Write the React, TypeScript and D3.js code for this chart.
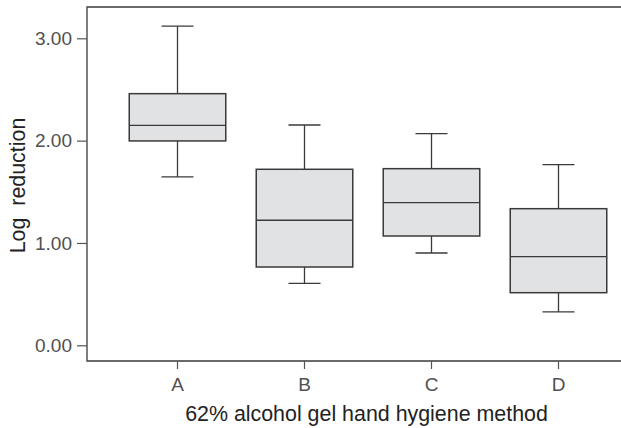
import React, { useRef, useEffect } from "react";
import * as d3 from "d3";

// five-number summaries
const methods = ["A", "B", "C", "D"];
const whiskerLow = [1.645, 0.606, 0.902, 0.326];
const quartile1 = [1.997, 0.765, 1.068, 0.514];
const medians = [2.15, 1.222, 1.394, 0.866];
const quartile3 = [2.459, 1.72, 1.726, 1.335];
const whiskerHigh = [3.118, 2.153, 2.068, 1.765];
const yTicks = [0, 1, 2, 3];

const width = 621;
const height = 428;

const App = () => {
  const svgRef = useRef<SVGSVGElement>(null);

  useEffect(() => {
    const svg = d3.select(svgRef.current);
    svg.selectAll("*").remove();

    const font = "'Liberation Sans', Arial, Helvetica, sans-serif";
    const left = 87, top = 7, bottom = 361;

    const x = d3.scaleBand()
      .domain(methods)
      .range([114, 622])
      .paddingInner(0.24)
      .paddingOuter(0.12);

    const y = d3.scaleLinear()
      .domain([0, 3])
      .range([345.3, 38.3]);

    const data = methods.map((m, i) => ({
      m,
      lo: whiskerLow[i],
      q1: quartile1[i],
      med: medians[i],
      q3: quartile3[i],
      hi: whiskerHigh[i],
    }));

    // frame (open on the right)
    svg.append("path")
      .attr("d", `M${width},${top}H${left}V${bottom}H${width}`)
      .attr("fill", "none")
      .attr("stroke", "#3a3a3a")
      .attr("stroke-width", 1.3);

    const yAxis = svg.append("g")
      .attr("transform", `translate(${left},0)`)
      .call(d3.axisLeft(y).tickValues(yTicks).tickFormat(d3.format(".2f")).tickSize(10).tickPadding(5));
    yAxis.select(".domain").remove();
    yAxis.selectAll("line").attr("stroke", "#555").attr("stroke-width", 1.2);
    yAxis.selectAll("text")
      .attr("font-family", font)
      .attr("font-size", 19)
      .attr("fill", "#505050");

    const xAxis = svg.append("g")
      .attr("transform", `translate(0,${bottom})`)
      .call(d3.axisBottom(x).tickSize(8).tickPadding(9));
    xAxis.select(".domain").remove();
    xAxis.selectAll("line").attr("stroke", "#555").attr("stroke-width", 1.2);
    xAxis.selectAll("text")
      .attr("font-family", font)
      .attr("font-size", 19)
      .attr("fill", "#505050");

    const bw = x.bandwidth();
    const cap = 32;
    const boxes = svg.append("g").selectAll("g")
      .data(data)
      .enter()
      .append("g")
      .attr("transform", d => `translate(${(x(d.m) || 0) + bw / 2},0)`);

    const stroke = "#3a3a3a";

    boxes.append("line")
      .attr("y1", d => y(d.hi)).attr("y2", d => y(d.q3))
      .attr("stroke", stroke).attr("stroke-width", 1.3);
    boxes.append("line")
      .attr("y1", d => y(d.lo)).attr("y2", d => y(d.q1))
      .attr("stroke", stroke).attr("stroke-width", 1.3);
    boxes.append("line")
      .attr("x1", -cap / 2).attr("x2", cap / 2)
      .attr("y1", d => y(d.hi)).attr("y2", d => y(d.hi))
      .attr("stroke", stroke).attr("stroke-width", 1.3);
    boxes.append("line")
      .attr("x1", -cap / 2).attr("x2", cap / 2)
      .attr("y1", d => y(d.lo)).attr("y2", d => y(d.lo))
      .attr("stroke", stroke).attr("stroke-width", 1.3);

    boxes.append("rect")
      .attr("x", -bw / 2)
      .attr("width", bw)
      .attr("y", d => y(d.q3))
      .attr("height", d => y(d.q1) - y(d.q3))
      .attr("fill", "#e1e2e4")
      .attr("stroke", stroke)
      .attr("stroke-width", 1.5);

    boxes.append("line")
      .attr("x1", -bw / 2).attr("x2", bw / 2)
      .attr("y1", d => y(d.med)).attr("y2", d => y(d.med))
      .attr("stroke", stroke).attr("stroke-width", 1.3);

    svg.append("text")
      .attr("x", 366.5)
      .attr("y", 421)
      .attr("text-anchor", "middle")
      .attr("font-family", font)
      .attr("font-size", 21.4)
      .attr("fill", "#222")
      .text("62% alcohol gel hand hygiene method");

    svg.append("text")
      .attr("transform", `translate(25,185.5) rotate(-90)`)
      .attr("text-anchor", "middle")
      .attr("font-family", font)
      .attr("font-size", 21.4)
      .attr("fill", "#222")
      .attr("style", "white-space: pre")
      .text("Log  reduction");
  }, []);

  return (
    <svg
      ref={svgRef}
      width={width}
      height={height}
      style={{ position: "absolute", left: 0, top: 0, background: "#fff" }}
    ></svg>
  );
};

export default App;
